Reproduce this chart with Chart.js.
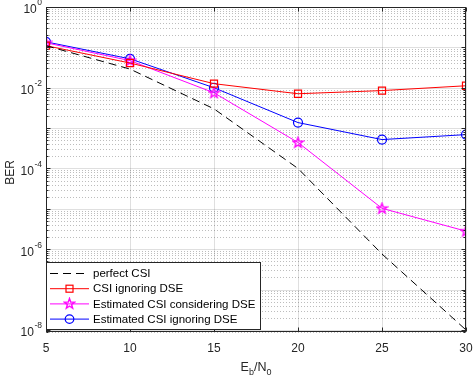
<!DOCTYPE html>
<html>
<head>
<meta charset="utf-8">
<script src="https://cdn.jsdelivr.net/npm/chart.js@4.4.0/dist/chart.umd.min.js"></script>
<style>
  body { margin: 0; background: #fff; }
  canvas { display: block; }
</style>
</head>
<body>
<canvas id="ber-chart" width="474" height="378"></canvas>
<script>
const snr = [5, 10, 15, 20, 25, 30];
const perfectCSI = [0.11, 0.029, 3.0e-3, 1.0e-4, 7.6e-7, 1.0e-8];
const csiIgnoring = [0.11, 0.041, 0.0126, 0.0071, 0.0085, 0.0112];
const estConsidering = [0.13, 0.047, 7.5e-3, 4.4e-4, 1.03e-5, 2.8e-6];
const estIgnoring = [0.137, 0.052, 0.010, 1.37e-3, 5.2e-4, 6.9e-4];
const xTicks = [5, 10, 15, 20, 25, 30];
const yExps = [0, -2, -4, -6, -8];

const axisColor = '#262626';
const font = '"Liberation Sans", Arial, sans-serif';

// pentagram marker, MATLAB style
const star = document.createElement('canvas');
star.width = 13; star.height = 13;
{
  const c = star.getContext('2d');
  c.beginPath();
  for (let i = 0; i < 10; i++) {
    const r = i % 2 === 0 ? 5.4 : 2.2;
    const a = -Math.PI / 2 + i * Math.PI / 5;
    const px = 6.5 + r * Math.cos(a), py = 6.8 + r * Math.sin(a);
    i === 0 ? c.moveTo(px, py) : c.lineTo(px, py);
  }
  c.closePath();
  c.strokeStyle = '#ff00ff';
  c.lineWidth = 1.4;
  c.stroke();
}

const pts = (arr) => snr.map((x, i) => ({x: x, y: arr[i]}));

const frame = {
  id: 'frame',
  beforeDatasetsDraw(chart) {
    const {ctx, chartArea: a, scales: {x, y}} = chart;
    ctx.save();
    // minor grid, dotted
    ctx.strokeStyle = 'rgba(38,38,38,0.3)';
    ctx.lineWidth = 1;
    ctx.setLineDash([1, 2]);
    for (let e = -9; e < 0; e++) {
      for (let m = 2; m <= 9; m++) {
        const v = m * Math.pow(10, e);
        if (v < y.min || v > y.max) continue;
        const py = Math.round(y.getPixelForValue(v)) + 0.5;
        ctx.beginPath(); ctx.moveTo(a.left, py); ctx.lineTo(a.right, py); ctx.stroke();
      }
    }
    // major grid
    ctx.setLineDash([]);
    ctx.strokeStyle = 'rgba(38,38,38,0.15)';
    for (let e = -8; e <= 0; e++) {
      const py = Math.round(y.getPixelForValue(Math.pow(10, e))) + 0.5;
      ctx.beginPath(); ctx.moveTo(a.left, py); ctx.lineTo(a.right, py); ctx.stroke();
    }
    xTicks.forEach(t => {
      const px = Math.round(x.getPixelForValue(t)) + 0.5;
      ctx.beginPath(); ctx.moveTo(px, a.top); ctx.lineTo(px, a.bottom); ctx.stroke();
    });
    ctx.restore();
  },
  afterDatasetsDraw(chart) {
    const {ctx, chartArea: a, scales: {x, y}} = chart;
    ctx.save();
    ctx.strokeStyle = axisColor;
    ctx.lineWidth = 1;
    const L = Math.round(a.left) + 0.5, R = Math.round(a.right) - 0.5;
    const T = Math.round(a.top) + 0.5, B = Math.round(a.bottom) - 0.5;
    ctx.strokeRect(L, T, R - L, B - T);

    // ticks
    ctx.beginPath();
    xTicks.forEach(t => {
      const px = Math.round(x.getPixelForValue(t)) + 0.5;
      ctx.moveTo(px, B); ctx.lineTo(px, B - 4);
      ctx.moveTo(px, T); ctx.lineTo(px, T + 4);
    });
    for (let e = -9; e <= 0; e++) {
      for (let m = 1; m <= 9; m++) {
        const v = m * Math.pow(10, e);
        if (v < y.min || v > y.max) continue;
        const len = m === 1 ? 4 : 2;
        const py = Math.round(y.getPixelForValue(v)) + 0.5;
        ctx.moveTo(L, py); ctx.lineTo(L + len, py);
        ctx.moveTo(R, py); ctx.lineTo(R - len, py);
      }
    }
    ctx.stroke();

    // tick labels
    ctx.fillStyle = axisColor;
    ctx.textBaseline = 'middle';
    ctx.textAlign = 'center';
    ctx.font = '12px ' + font;
    xTicks.forEach(t => ctx.fillText(String(t), x.getPixelForValue(t), a.bottom + 17));

    yExps.forEach(e => {
      const py = y.getPixelForValue(Math.pow(10, e));
      ctx.font = '8.5px ' + font;
      const sup = e === 0 ? '0' : '-' + (-e);
      const sw = ctx.measureText(sup).width;
      ctx.textAlign = 'right';
      ctx.fillText(sup, a.left - 4, py - 4);
      ctx.font = '12px ' + font;
      ctx.fillText('10', a.left - 4 - sw - 0.5, py + 3);
    });

    // axis titles
    ctx.fillStyle = axisColor;
    ctx.textAlign = 'left';
    ctx.textBaseline = 'alphabetic';
    const parts = [['E', 12.5, 0], ['b', 9, 4], ['/N', 12.5, 0], ['0', 9, 4]];
    let w = 0;
    parts.forEach(p => { ctx.font = p[1] + 'px ' + font; w += ctx.measureText(p[0]).width; });
    let cx = (a.left + a.right) / 2 - w / 2;
    parts.forEach(p => {
      ctx.font = p[1] + 'px ' + font;
      ctx.fillText(p[0], cx, 371 + p[2]);
      cx += ctx.measureText(p[0]).width;
    });

    ctx.save();
    ctx.translate(11, (a.top + a.bottom) / 2 + 3);
    ctx.rotate(-Math.PI / 2);
    ctx.textAlign = 'center';
    ctx.textBaseline = 'middle';
    ctx.font = '12px ' + font;
    ctx.fillText('BER', 0, 0);
    ctx.restore();

    // legend inside the axes, bottom-left
    const lx = L, ly = 262.5, lw = 214, lh = 67;
    ctx.fillStyle = '#fff';
    ctx.fillRect(lx, ly, lw, lh);
    ctx.strokeStyle = axisColor;
    ctx.strokeRect(lx, ly, lw, lh);
    ctx.font = '11.5px ' + font;
    ctx.textBaseline = 'middle';
    ctx.textAlign = 'left';
    chart.data.datasets.forEach((ds, i) => {
      const ey = 273.5 + i * 15.2;
      ctx.strokeStyle = ds.borderColor;
      ctx.lineWidth = 1;
      ctx.setLineDash(ds.borderDash || []);
      ctx.beginPath(); ctx.moveTo(50, ey); ctx.lineTo(89, ey); ctx.stroke();
      ctx.setLineDash([]);
      const ps = ds.pointStyle;
      ctx.lineWidth = 1.2;
      if (ps === 'rect') {
        ctx.strokeRect(66, ey - 3.5, 7, 7);
      } else if (ps === 'circle') {
        ctx.beginPath(); ctx.arc(69.5, ey, 4.3, 0, Math.PI * 2); ctx.stroke();
      } else if (ps instanceof HTMLCanvasElement) {
        ctx.drawImage(ps, 63, ey - 6.8);
      }
      ctx.fillStyle = '#000';
      ctx.fillText(ds.label, 93, ey + 0.5);
    });
    ctx.restore();
  }
};

new Chart(document.getElementById('ber-chart'), {
  type: 'line',
  data: {
    datasets: [
      {
        label: 'perfect CSI',
        data: pts(perfectCSI),
        borderColor: '#000000',
        borderWidth: 1,
        borderDash: [8, 5],
        pointRadius: 0,
        pointStyle: false
      },
      {
        label: 'CSI ignoring DSE',
        data: pts(csiIgnoring),
        borderColor: '#ff0000',
        backgroundColor: 'rgba(0,0,0,0)',
        borderWidth: 1,
        pointStyle: 'rect',
        pointRadius: 5,
        pointBorderWidth: 1.2
      },
      {
        label: 'Estimated CSI considering DSE',
        data: pts(estConsidering),
        borderColor: '#ff00ff',
        backgroundColor: 'rgba(0,0,0,0)',
        borderWidth: 1,
        pointStyle: star,
        pointRadius: 6
      },
      {
        label: 'Estimated CSI ignoring DSE',
        data: pts(estIgnoring),
        borderColor: '#0000ff',
        backgroundColor: 'rgba(0,0,0,0)',
        borderWidth: 1,
        pointStyle: 'circle',
        pointRadius: 4.5,
        pointBorderWidth: 1.2
      }
    ]
  },
  options: {
    responsive: false,
    animation: false,
    devicePixelRatio: 1,
    layout: { padding: { left: 46, right: 8, top: 6, bottom: 46 } },
    plugins: { legend: { display: false }, tooltip: { enabled: false } },
    scales: {
      x: { type: 'linear', min: 5, max: 30, display: false },
      y: { type: 'logarithmic', min: 8.9e-9, max: 1, display: false }
    }
  },
  plugins: [frame]
});
</script>
</body>
</html>
